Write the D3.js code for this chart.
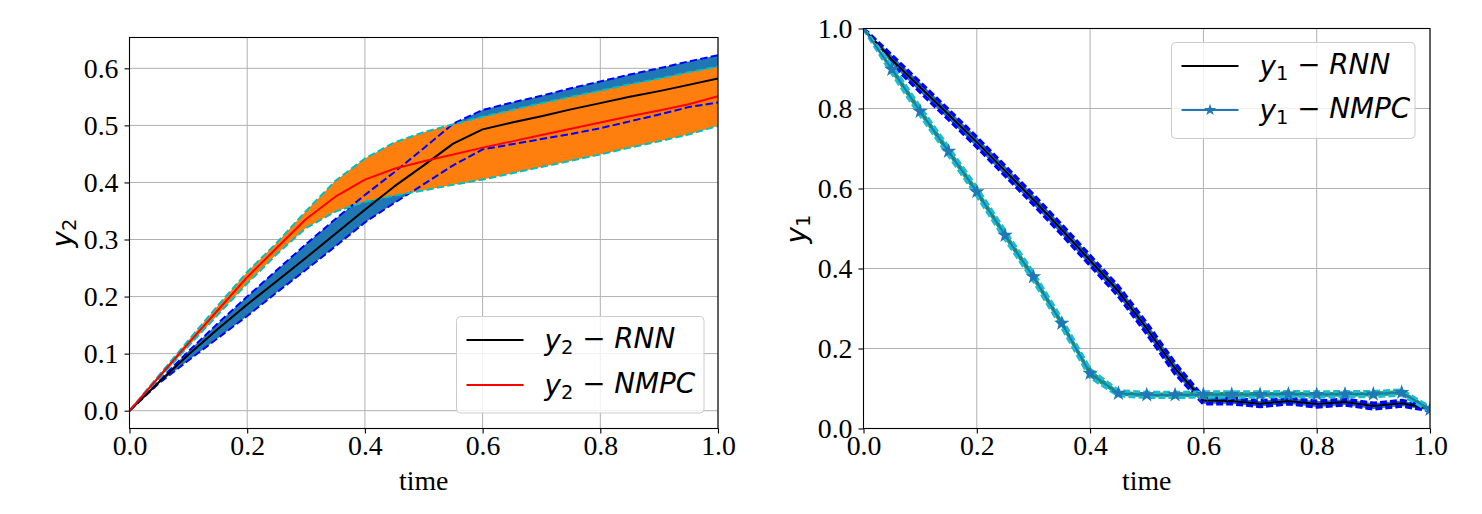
<!DOCTYPE html>
<html>
<head>
<meta charset="utf-8">
<script src="https://cdn.jsdelivr.net/npm/d3@7"></script>
<style>
  body { margin: 0; background: #fff; }
  svg { display: block; }
</style>
</head>
<body>
<svg id="chart" width="1482" height="514"></svg>
<script>
// time grid, shared by both panels
var time = [0, 0.05, 0.1, 0.15, 0.2, 0.25, 0.3, 0.35, 0.4, 0.45, 0.5,
            0.55, 0.6, 0.65, 0.7, 0.75, 0.8, 0.85, 0.9, 0.95, 1.0];

// left panel: y2
var y2RnnMean  = [0, 0.05, 0.098, 0.143, 0.186, 0.227, 0.268, 0.31, 0.352, 0.393, 0.43,
                  0.468, 0.493, 0.505, 0.516, 0.528, 0.539, 0.55, 0.56, 0.571, 0.582];
var y2RnnUpper = [0, 0.052, 0.104, 0.153, 0.2, 0.246, 0.292, 0.336, 0.378, 0.418, 0.46,
                  0.503, 0.527, 0.54, 0.552, 0.565, 0.577, 0.589, 0.6, 0.612, 0.623];
var y2RnnLower = [0, 0.048, 0.088, 0.127, 0.166, 0.207, 0.247, 0.288, 0.33, 0.364, 0.397,
                  0.43, 0.458, 0.467, 0.476, 0.485, 0.495, 0.507, 0.519, 0.532, 0.54];
var y2NmpcMean  = [0, 0.059, 0.118, 0.176, 0.234, 0.285, 0.336, 0.375, 0.405, 0.424, 0.437,
                   0.449, 0.461, 0.472, 0.483, 0.494, 0.505, 0.516, 0.526, 0.537, 0.551];
var y2NmpcUpper = [0, 0.062, 0.123, 0.184, 0.243, 0.294, 0.35, 0.403, 0.442, 0.47, 0.488,
                   0.502, 0.515, 0.527, 0.539, 0.55, 0.561, 0.572, 0.582, 0.593, 0.603];
var y2NmpcLower = [0, 0.056, 0.113, 0.168, 0.223, 0.274, 0.32, 0.349, 0.366, 0.377, 0.386,
                   0.396, 0.405, 0.416, 0.427, 0.438, 0.449, 0.461, 0.472, 0.484, 0.499];

// right panel: y1
var y1RnnMean  = [1.0, 0.922, 0.853, 0.785, 0.716, 0.644, 0.572, 0.497, 0.42, 0.343, 0.25,
                  0.15, 0.07, 0.069, 0.062, 0.069, 0.061, 0.066, 0.056, 0.063, 0.05];
var y1RnnUpper = [1.0, 0.933, 0.865, 0.797, 0.728, 0.656, 0.584, 0.509, 0.432, 0.355, 0.263,
                  0.163, 0.078, 0.076, 0.069, 0.076, 0.068, 0.073, 0.063, 0.07, 0.055];
var y1RnnLower = [1.0, 0.911, 0.841, 0.773, 0.704, 0.632, 0.56, 0.485, 0.408, 0.331, 0.237,
                  0.137, 0.062, 0.062, 0.055, 0.062, 0.054, 0.059, 0.049, 0.056, 0.045];
var y1NmpcMean  = [1.0, 0.898, 0.793, 0.693, 0.592, 0.483, 0.379, 0.263, 0.138, 0.088, 0.084,
                   0.084, 0.085, 0.085, 0.085, 0.086, 0.085, 0.086, 0.086, 0.09, 0.048];
var y1NmpcUpper = [1.0, 0.908, 0.803, 0.703, 0.602, 0.493, 0.389, 0.273, 0.148, 0.094, 0.09,
                   0.09, 0.091, 0.091, 0.091, 0.092, 0.091, 0.092, 0.092, 0.096, 0.053];
var y1NmpcLower = [1.0, 0.888, 0.783, 0.683, 0.582, 0.473, 0.369, 0.253, 0.128, 0.082, 0.078,
                   0.078, 0.079, 0.079, 0.079, 0.08, 0.079, 0.08, 0.08, 0.084, 0.043];

var xTicks = [0, 0.2, 0.4, 0.6, 0.8, 1.0];
var y2Ticks = [0, 0.1, 0.2, 0.3, 0.4, 0.5, 0.6];
var y1Ticks = [0, 0.2, 0.4, 0.6, 0.8, 1.0];

var svg = d3.select("#chart");
var serif = "'Liberation Serif', 'Times New Roman', serif";
var mathFont = "'DejaVu Sans', sans-serif";
var fmt = d3.format(".1f");

// set up one panel: grid, clip
function makePanel(id, box, yDomain, yTicks) {
  var x = d3.scaleLinear().domain([0, 1]).range([box.left, box.right]);
  var y = d3.scaleLinear().domain(yDomain).range([box.bottom, box.top]);
  var g = svg.append("g").attr("id", id);

  g.append("clipPath").attr("id", id + "-clip")
    .append("rect")
    .attr("x", box.left).attr("y", box.top)
    .attr("width", box.right - box.left).attr("height", box.bottom - box.top);

  // grid
  g.append("g").selectAll("line").data(xTicks).join("line")
    .attr("x1", d => x(d)).attr("x2", d => x(d))
    .attr("y1", box.top).attr("y2", box.bottom)
    .attr("stroke", "#b0b0b0").attr("stroke-width", 1);
  g.append("g").selectAll("line").data(yTicks).join("line")
    .attr("y1", d => y(d)).attr("y2", d => y(d))
    .attr("x1", box.left).attr("x2", box.right)
    .attr("stroke", "#b0b0b0").attr("stroke-width", 1);

  var plot = g.append("g").attr("clip-path", "url(#" + id + "-clip)");
  return { g: g, plot: plot, x: x, y: y, box: box, yTicks: yTicks };
}

// axes, frame and x label
function finishPanel(p) {
  var box = p.box;
  var xAxis = p.g.append("g")
    .attr("transform", "translate(0," + box.bottom + ")")
    .call(d3.axisBottom(p.x).tickValues(xTicks).tickFormat(fmt).tickSize(5).tickPadding(5));
  var yAxis = p.g.append("g")
    .attr("transform", "translate(" + box.left + ",0)")
    .call(d3.axisLeft(p.y).tickValues(p.yTicks).tickFormat(fmt).tickSize(5).tickPadding(6));
  [xAxis, yAxis].forEach(function(a) {
    a.select(".domain").remove();
    a.selectAll(".tick line").attr("stroke", "#000").attr("stroke-width", 1.1);
    a.selectAll(".tick text")
      .style("font-family", serif).style("font-size", "27.8px").attr("fill", "#000");
  });
  xAxis.selectAll(".tick text").attr("dy", "0.6em");
  yAxis.selectAll(".tick text").attr("dy", "0.33em");

  // frame
  p.g.append("rect")
    .attr("x", box.left).attr("y", box.top)
    .attr("width", box.right - box.left).attr("height", box.bottom - box.top)
    .attr("fill", "none").attr("stroke", "#000").attr("stroke-width", 1.1);

  p.g.append("text")
    .attr("x", (box.left + box.right) / 2).attr("y", box.bottom + 61)
    .attr("text-anchor", "middle")
    .style("font-family", serif).style("font-size", "27.8px")
    .text("time");
}

// math-like label: y_sub - name
function mathLabel(sel, sub, name) {
  sel.style("font-family", mathFont);
  sel.append("tspan").style("font-style", "italic").text("y");
  sel.append("tspan").attr("dy", "0.22em").style("font-size", "0.7em").text(sub);
  if (name) {
    sel.append("tspan").attr("dy", "-0.22em").text(" \u2212 ");
    sel.append("tspan").style("font-style", "italic").text(name);
  }
}

function pts(xs, ys) { return d3.zip(xs, ys); }

function drawLine(p, ys, color, width, dash) {
  var line = d3.line().x(d => p.x(d[0])).y(d => p.y(d[1]));
  p.plot.append("path").datum(pts(time, ys))
    .attr("d", line).attr("fill", "none")
    .attr("stroke", color).attr("stroke-width", width)
    .attr("stroke-dasharray", dash || null)
    .attr("stroke-linejoin", "round");
}

function drawBand(p, lower, upper, color) {
  var area = d3.area()
    .x((d, i) => p.x(time[i]))
    .y0((d, i) => p.y(lower[i]))
    .y1((d, i) => p.y(upper[i]));
  p.plot.append("path").datum(time).attr("d", area).attr("fill", color);
}

function legend(p, bx, by, bw, bh, items) {
  var lg = p.g.append("g");
  lg.append("rect")
    .attr("x", bx).attr("y", by).attr("width", bw).attr("height", bh)
    .attr("rx", 4).attr("fill", "#fff").attr("fill-opacity", 0.8)
    .attr("stroke", "#cccccc").attr("stroke-width", 1);
  items.forEach(function(it) {
    var cy = by + it.dy;
    lg.append("line")
      .attr("x1", bx + 10).attr("x2", bx + 67).attr("y1", cy).attr("y2", cy)
      .attr("stroke", it.color).attr("stroke-width", 2);
    if (it.marker) {
      lg.append("path")
        .attr("d", d3.symbol(d3.symbolStar, 45)())
        .attr("transform", "translate(" + (bx + 38.5) + "," + cy + ")")
        .attr("fill", it.color);
    }
    var t = lg.append("text")
      .attr("x", bx + 88).attr("y", cy + 10)
      .style("font-size", "27.8px");
    mathLabel(t, it.sub, it.name);
  });
}

// ---------- left panel ----------
var left = makePanel("left", { left: 129.5, right: 718, top: 37.5, bottom: 428.5 },
                     [-0.0312, 0.654], y2Ticks);
drawBand(left, y2RnnLower, y2RnnUpper, "#1f77b4");
drawBand(left, y2NmpcLower, y2NmpcUpper, "#ff7f0e");
drawLine(left, y2RnnUpper, "#0000ff", 2, "7.4,3.2");
drawLine(left, y2RnnLower, "#0000ff", 2, "7.4,3.2");
drawLine(left, y2NmpcUpper, "#00bfbf", 2, "7.4,3.2");
drawLine(left, y2NmpcLower, "#00bfbf", 2, "7.4,3.2");
drawLine(left, y2RnnMean, "#000000", 2);
drawLine(left, y2NmpcMean, "#ff0000", 2);
finishPanel(left);
left.g.append("text")
  .attr("transform", "translate(72,233) rotate(-90)")
  .attr("text-anchor", "middle")
  .style("font-size", "27.8px")
  .call(mathLabel, "2");
legend(left, 456.5, 316.5, 247.5, 96.5, [
  { sub: "2", name: "RNN", color: "#000000", dy: 23.5 },
  { sub: "2", name: "NMPC", color: "#ff0000", dy: 68.5 }
]);

// ---------- right panel ----------
var right = makePanel("right", { left: 863.5, right: 1430, top: 28.5, bottom: 428.5 },
                      [0, 1], y1Ticks);
drawBand(right, y1RnnLower, y1RnnUpper, "#1f77b4");
drawLine(right, y1RnnUpper, "#0000ff", 3.5, "7,3");
drawLine(right, y1RnnLower, "#0000ff", 3.5, "7,3");
drawLine(right, y1RnnMean, "#000000", 2);
drawBand(right, y1NmpcLower, y1NmpcUpper, "#2ca02c");
drawLine(right, y1NmpcUpper, "#17becf", 3.5, "7,3");
drawLine(right, y1NmpcLower, "#17becf", 3.5, "7,3");
drawLine(right, y1NmpcMean, "#1f77b4", 2);
right.plot.append("g").selectAll("path").data(pts(time, y1NmpcMean)).join("path")
  .attr("d", d3.symbol(d3.symbolStar, 75)())
  .attr("transform", d => "translate(" + right.x(d[0]) + "," + right.y(d[1]) + ")")
  .attr("fill", "#1f77b4");
finishPanel(right);
right.g.append("text")
  .attr("transform", "translate(806,229) rotate(-90)")
  .attr("text-anchor", "middle")
  .style("font-size", "27.8px")
  .call(mathLabel, "1");
legend(right, 1171.5, 42.5, 243.5, 96, [
  { sub: "1", name: "RNN", color: "#000000", dy: 23.5 },
  { sub: "1", name: "NMPC", color: "#1f77b4", marker: true, dy: 67.5 }
]);
</script>
</body>
</html>
